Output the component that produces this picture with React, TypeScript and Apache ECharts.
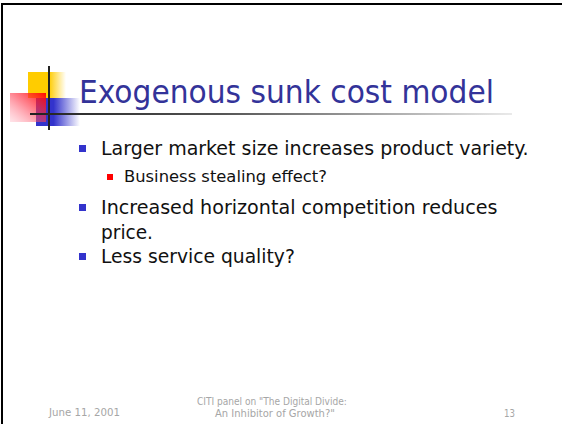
import React, { useEffect, useRef } from "react";
import * as echarts from "echarts";

const TITLE = "Exogenous sunk cost model";
const BULLET_TEXTS = [
  "Larger market size increases product variety.",
  "Business stealing effect?",
  "Increased horizontal competition reduces",
  "price.",
  "Less service quality?",
];
const BULLET_LEVELS = [1, 2, 1, 0, 1]; // 0 = continuation line
const FOOTER_DATE = "June 11, 2001";
const FOOTER_CENTER = ['CITI panel on "The Digital Divide:', 'An Inhibitor of Growth?"'];
const FOOTER_PAGE = "13";

const FONT = "Verdana, 'DejaVu Sans Condensed', 'DejaVu Sans', sans-serif";

function measure(text: string, font: string): number {
  const t = new echarts.graphic.Text({ style: { text, font } });
  return t.getBoundingRect().width || 1;
}

function fitText(
  text: string,
  font: string,
  left: number,
  mid: number,
  width: number,
  fill: string
) {
  const w = measure(text, font);
  return {
    type: "text",
    x: left,
    y: mid,
    scaleX: width / w,
    style: { x: 0, y: 0, text, font, fill, textAlign: "left", textVerticalAlign: "middle" },
  };
}

export default function App() {
  const ref = useRef<HTMLDivElement>(null);
  useEffect(() => {
    document.body.style.margin = "0";
    const chart = echarts.init(ref.current!, null, { renderer: "svg" });

    const bulletMid = [148, 176, 207, 232, 256];
    const bulletWidth = [428, 203, 397, 52, 194];
    const textLeft = [101, 124, 101, 101, 101];
    const bulletSize = [20, 16, 20, 20, 20];

    const elements: any[] = [];
    // frame
    elements.push({ type: "rect", shape: { x: 1, y: 3, width: 561, height: 2 }, style: { fill: "#000" } });
    elements.push({ type: "rect", shape: { x: 1, y: 3, width: 2, height: 421 }, style: { fill: "#000" } });

    // logo
    elements.push({
      type: "rect",
      shape: { x: 28, y: 72, width: 38, height: 26 },
      style: {
        fill: new echarts.graphic.LinearGradient(0, 0, 1, 0, [
          { offset: 0, color: "#FFCC00" },
          { offset: 0.55, color: "#FFCC00" },
          { offset: 1, color: "rgba(255,204,0,0)" },
        ]),
      },
    });
    elements.push({
      type: "rect",
      shape: { x: 36, y: 98, width: 44, height: 28 },
      style: {
        fill: new echarts.graphic.LinearGradient(0, 0, 1, 0, [
          { offset: 0, color: "#3333CC" },
          { offset: 0.4, color: "#3333CC" },
          { offset: 1, color: "rgba(51,51,204,0)" },
        ]),
      },
    });
    elements.push({
      type: "rect",
      shape: { x: 10, y: 93, width: 36, height: 29 },
      style: {
        fill: new echarts.graphic.LinearGradient(1, 0, 0, 1, [
          { offset: 0, color: "rgba(255,0,0,0.95)" },
          { offset: 0.5, color: "rgba(255,60,80,0.6)" },
          { offset: 1, color: "rgba(255,150,170,0.25)" },
        ]),
      },
    });
    elements.push({ type: "rect", shape: { x: 48, y: 66, width: 2, height: 64 }, style: { fill: "#222" } });
    elements.push({
      type: "rect",
      shape: { x: 30, y: 113, width: 482, height: 2 },
      style: {
        fill: new echarts.graphic.LinearGradient(0, 0, 1, 0, [
          { offset: 0, color: "#222" },
          { offset: 0.4, color: "#555" },
          { offset: 1, color: "#eaeaea" },
        ]),
      },
    });

    // title
    elements.push(fitText(TITLE, `32px ${FONT}`, 79, 92, 415, "#333399"));

    // bullets
    BULLET_TEXTS.forEach((t, i) => {
      const lvl = BULLET_LEVELS[i];
      if (lvl === 1) {
        elements.push({ type: "rect", shape: { x: 79, y: bulletMid[i] - 3, width: 7, height: 7 }, style: { fill: "#3333CC" } });
      } else if (lvl === 2) {
        elements.push({ type: "rect", shape: { x: 107, y: bulletMid[i] - 2, width: 6, height: 6 }, style: { fill: "#FF0000" } });
      }
      elements.push(fitText(t, `${bulletSize[i]}px ${FONT}`, textLeft[i], bulletMid[i], bulletWidth[i], "#111"));
    });

    // footer
    elements.push(fitText(FOOTER_DATE, `10px ${FONT}`, 49, 413, 71, "#a6a6a6"));
    FOOTER_CENTER.forEach((t, i) => {
      const w = i === 0 ? 150 : 120;
      const left = i === 0 ? 197 : 215;
      elements.push(fitText(t, `10px ${FONT}`, left, 402 + i * 11, w, "#a6a6a6"));
    });
    elements.push(fitText(FOOTER_PAGE, `10px ${FONT}`, 504, 413, 11, "#a6a6a6"));

    chart.setOption({
      animation: false,
      backgroundColor: "#ffffff",
      graphic: { elements },
    });
    return () => chart.dispose();
  }, []);
  return <div ref={ref} style={{ position: "fixed", left: 0, top: 0, width: 562, height: 424 }} />;
}
